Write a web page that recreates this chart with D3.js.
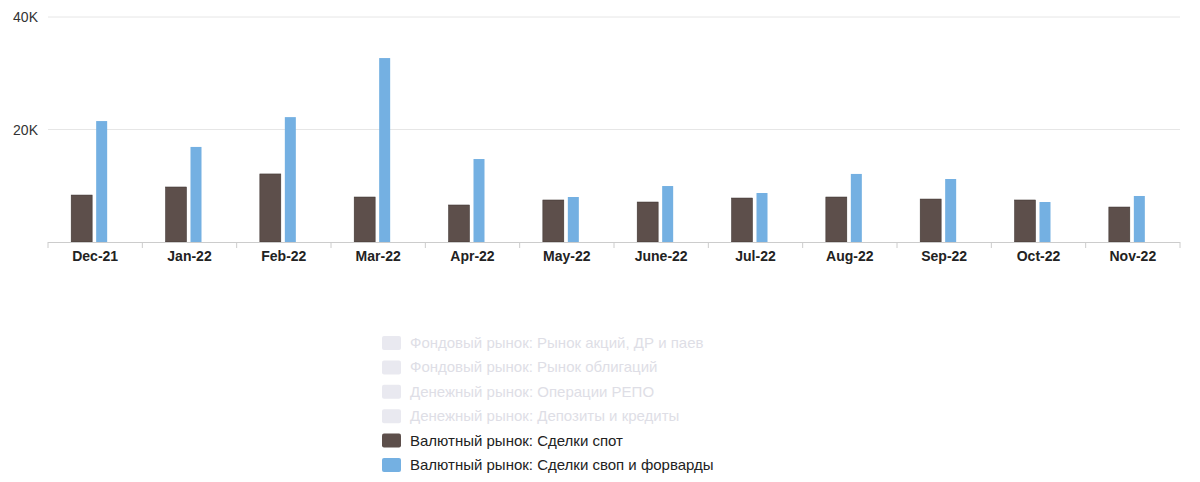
<!DOCTYPE html>
<html><head><meta charset="utf-8">
<script src="https://cdn.jsdelivr.net/npm/d3@7"></script>
<style>body{margin:0;background:#fff;font-family:"Liberation Sans",Arial,sans-serif;}</style>
</head><body><svg id="c" width="1200" height="482"></svg>
<script>
var months = ["Dec-21","Jan-22","Feb-22","Mar-22","Apr-22","May-22","June-22","Jul-22","Aug-22","Sep-22","Oct-22","Nov-22"];
var spot = [8350,9780,12100,8000,6580,7470,7110,7820,8000,7640,7470,6220];
var swaps = [21500,16900,22200,32700,14750,8000,9950,8710,12100,11200,7110,8180];
var yTicks = [0,20000,40000];
var legendNames = ["Фондовый рынок: Рынок акций, ДР и паев","Фондовый рынок: Рынок облигаций","Денежный рынок: Операции РЕПО","Денежный рынок: Депозиты и кредиты","Валютный рынок: Сделки спот","Валютный рынок: Сделки своп и форварды",""];
var legendColors = [null,null,null,null,"#5d4f4b","#74b0e2",null];

var svg = d3.select("#c");
var x = d3.scaleBand().domain(months).range([48,1180]);
var y = d3.scaleLinear().domain([0,40000]).range([242,17]);

// grid
svg.selectAll(".grid").data(yTicks.slice(1)).enter().append("line")
  .attr("x1",48).attr("x2",1180).attr("y1",d=>y(d)).attr("y2",d=>y(d))
  .attr("stroke","#e6e6e6");
svg.selectAll(".yl").data(yTicks.slice(1)).enter().append("text")
  .attr("x",38).attr("y",d=>y(d)+5).attr("text-anchor","end")
  .attr("font-size",14).attr("fill","#333").text(d=>d/1000+"K");

// bars
svg.selectAll(".spot").data(spot).enter().append("rect")
  .attr("x",(d,i)=>x(months[i])+x.bandwidth()/2-24).attr("width",21)
  .attr("y",d=>y(d)).attr("height",d=>242-y(d))
  .attr("fill","#5d4f4b").attr("stroke","#3a302e").attr("stroke-width",0.5);
svg.selectAll(".swap").data(swaps).enter().append("rect")
  .attr("x",(d,i)=>x(months[i])+x.bandwidth()/2+1).attr("width",11)
  .attr("y",d=>y(d)).attr("height",d=>242-y(d))
  .attr("fill","#74b0e2");

// x axis
svg.append("line").attr("x1",48).attr("x2",1180).attr("y1",242.5).attr("y2",242.5).attr("stroke","#ccc");
svg.selectAll(".tk").data(months.concat(["end"])).enter().append("line")
  .attr("x1",(d,i)=>48+i*x.bandwidth()).attr("x2",(d,i)=>48+i*x.bandwidth())
  .attr("y1",242).attr("y2",248).attr("stroke","#ccc");
svg.selectAll(".xl").data(months).enter().append("text")
  .attr("x",d=>x(d)+x.bandwidth()/2).attr("y",261).attr("text-anchor","middle")
  .attr("font-size",14).attr("font-weight","bold").attr("fill","#222").text(d=>d);

// legend
var lg = svg.selectAll(".lg").data(legendNames).enter().append("g")
  .attr("transform",(d,i)=>"translate(382,"+(336+i*24.4)+")");
lg.append("rect").attr("width",19).attr("height",14).attr("rx",2)
  .attr("fill",(d,i)=>legendColors[i]||"#e9e9f0");
lg.append("text").attr("x",28).attr("y",12).attr("font-size",15)
  .attr("fill",(d,i)=>legendColors[i]?"#222":"#dedee6").text(d=>d);
</script></body></html>
